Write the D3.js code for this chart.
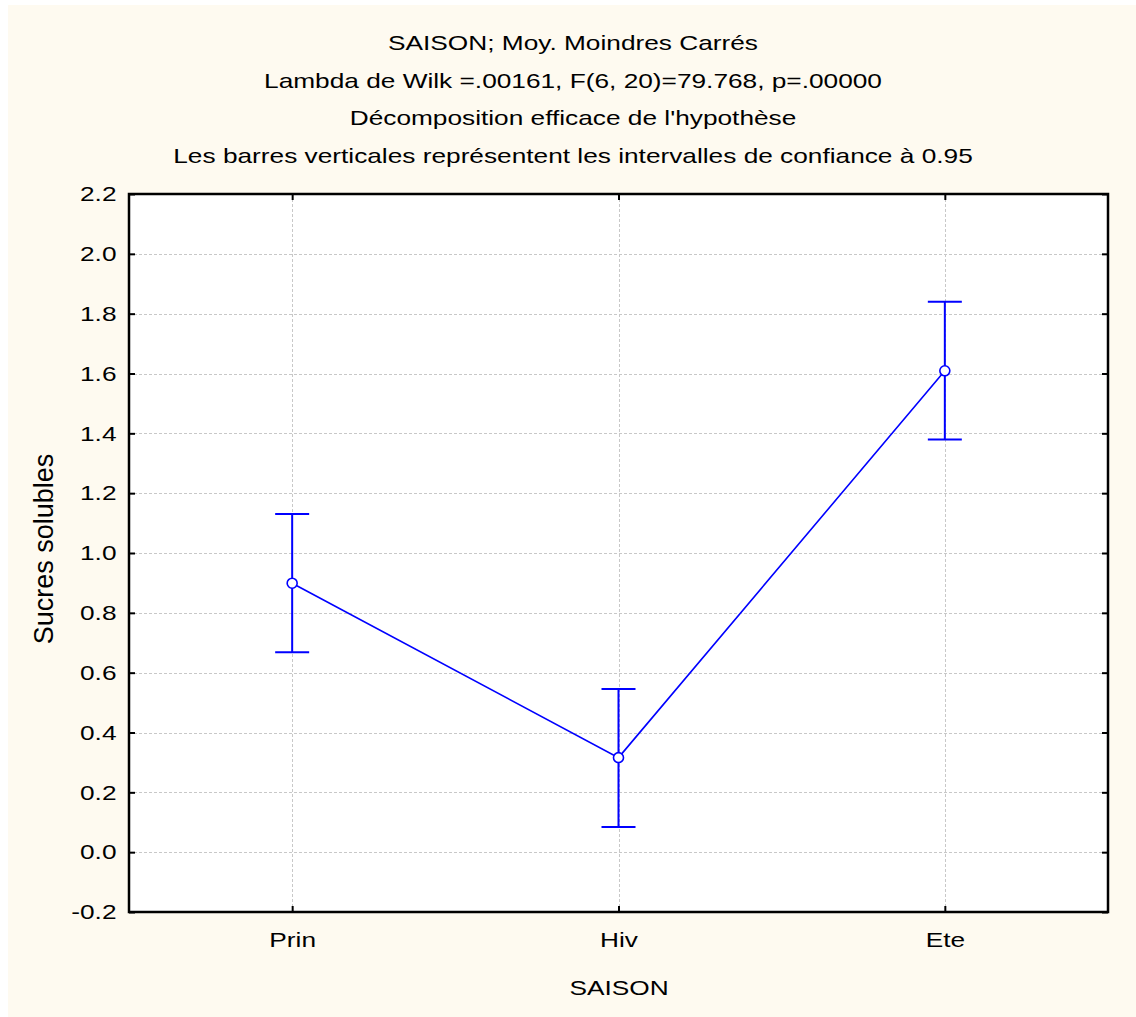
<!DOCTYPE html>
<html>
<head>
<meta charset="utf-8">
<script src="https://cdn.jsdelivr.net/npm/d3@7"></script>
<style>
  html, body { margin: 0; padding: 0; background: #ffffff; }
  svg { display: block; }
  text { font-family: "Liberation Sans", Arial, sans-serif; fill: #000; }
</style>
</head>
<body>
<svg id="chart" width="1136" height="1017"></svg>
<script>
// Least-squares means of soluble sugars per season, with 0.95 confidence limits
const seasons = ["Prin", "Hiv", "Ete"];
const means = [0.899, 0.316, 1.609];
const lower = [0.668, 0.084, 1.379];
const upper = [1.130, 0.545, 1.840];
const yTicks = [-0.2, 0.0, 0.2, 0.4, 0.6, 0.8, 1.0, 1.2, 1.4, 1.6, 1.8, 2.0, 2.2];
const titleLines = [
  "SAISON; Moy. Moindres Carrés",
  "Lambda de Wilk =.00161, F(6, 20)=79.768, p=.00000",
  "Décomposition efficace de l'hypothèse",
  "Les barres verticales représentent les intervalles de confiance à 0.95"
];

const svg = d3.select("#chart");
const W = 1136, H = 1017;
const plot = { left: 129, top: 194, right: 1108, bottom: 912 };
const blue = "#0000ff";
const FONT = 21;      // text size
const WIDEN = 1.25;   // horizontal stretch of the lettering

// cream page background
svg.append("rect").attr("x", 8).attr("y", 5).attr("width", W - 8).attr("height", H - 5)
  .attr("fill", "#fefaf0");

const x = d3.scalePoint().domain(seasons).range([plot.left, plot.right]).padding(0.5);
const y = d3.scaleLinear().domain([-0.2, 2.2]).range([plot.bottom, plot.top]);

// plot area
svg.append("rect").attr("x", plot.left).attr("y", plot.top)
  .attr("width", plot.right - plot.left).attr("height", plot.bottom - plot.top)
  .attr("fill", "#ffffff");

// grid lines
const grid = svg.append("g").attr("stroke", "#c8c8c8").attr("stroke-width", 1)
  .attr("stroke-dasharray", "3,2");
grid.selectAll("line.h").data(yTicks.slice(1, -1)).join("line")
  .attr("x1", plot.left).attr("x2", plot.right)
  .attr("y1", d => Math.round(y(d)) + 0.5).attr("y2", d => Math.round(y(d)) + 0.5);
grid.selectAll("line.v").data(seasons).join("line")
  .attr("y1", plot.top).attr("y2", plot.bottom)
  .attr("x1", d => Math.round(x(d)) + 0.5).attr("x2", d => Math.round(x(d)) + 0.5);

// axes: ticks pointing inward on all four sides
const yAxisL = d3.axisLeft(y).tickValues(yTicks).tickSize(-6).tickPadding(10)
  .tickFormat(d => d.toFixed(1));
const yAxisR = d3.axisRight(y).tickValues(yTicks).tickSize(-6).tickFormat("");
const xAxisB = d3.axisBottom(x).tickSize(-6).tickPadding(20);
const xAxisT = d3.axisTop(x).tickSize(-6).tickFormat("");

function styleAxis(g) {
  g.select(".domain").remove();
  g.selectAll(".tick line").attr("stroke", "#000").attr("stroke-width", 2);
  g.selectAll(".tick text").attr("font-size", FONT)
    .attr("font-family", "Liberation Sans, Arial, sans-serif").attr("fill", "#000")
    .attr("transform", `scale(${WIDEN},1)`);
}
svg.append("g").attr("transform", `translate(${plot.left},0)`).call(yAxisL).call(styleAxis);
svg.append("g").attr("transform", `translate(${plot.right},0)`).call(yAxisR).call(styleAxis);
svg.append("g").attr("transform", `translate(0,${plot.bottom})`).call(xAxisB).call(styleAxis);
svg.append("g").attr("transform", `translate(0,${plot.top})`).call(xAxisT).call(styleAxis);

// frame
svg.append("rect").attr("x", plot.left).attr("y", plot.top)
  .attr("width", plot.right - plot.left).attr("height", plot.bottom - plot.top)
  .attr("fill", "none").attr("stroke", "#000").attr("stroke-width", 2.5);

// error bars
const bars = svg.append("g").attr("stroke", blue).attr("stroke-width", 2);
seasons.forEach((s, i) => {
  const cx = x(s);
  bars.append("line").attr("x1", cx).attr("x2", cx).attr("y1", y(lower[i])).attr("y2", y(upper[i]));
  bars.append("line").attr("x1", cx - 17).attr("x2", cx + 17).attr("y1", y(upper[i])).attr("y2", y(upper[i]));
  bars.append("line").attr("x1", cx - 17).attr("x2", cx + 17).attr("y1", y(lower[i])).attr("y2", y(lower[i]));
});

// mean line
const line = d3.line().x((d, i) => x(seasons[i])).y(d => y(d));
svg.append("path").datum(means).attr("d", line)
  .attr("fill", "none").attr("stroke", blue).attr("stroke-width", 1.6);

// mean markers
svg.append("g").selectAll("circle").data(means).join("circle")
  .attr("cx", (d, i) => x(seasons[i])).attr("cy", d => y(d)).attr("r", 5)
  .attr("fill", "#ffffff").attr("stroke", blue).attr("stroke-width", 1.6);

// widened horizontal text placed at (tx, ty)
function label(tx, ty, str) {
  return svg.append("text")
    .attr("transform", `translate(${tx},${ty}) scale(${WIDEN},1)`)
    .attr("text-anchor", "middle").attr("font-size", FONT).text(str);
}

// titles
titleLines.forEach((t, i) => label(573, 50 + i * 37.5, t));

// axis titles
label(619, 995, "SAISON");
svg.append("text").attr("transform", "translate(53,549) rotate(-90)")
  .attr("text-anchor", "middle").attr("font-size", 27).text("Sucres solubles");
</script>
</body>
</html>
